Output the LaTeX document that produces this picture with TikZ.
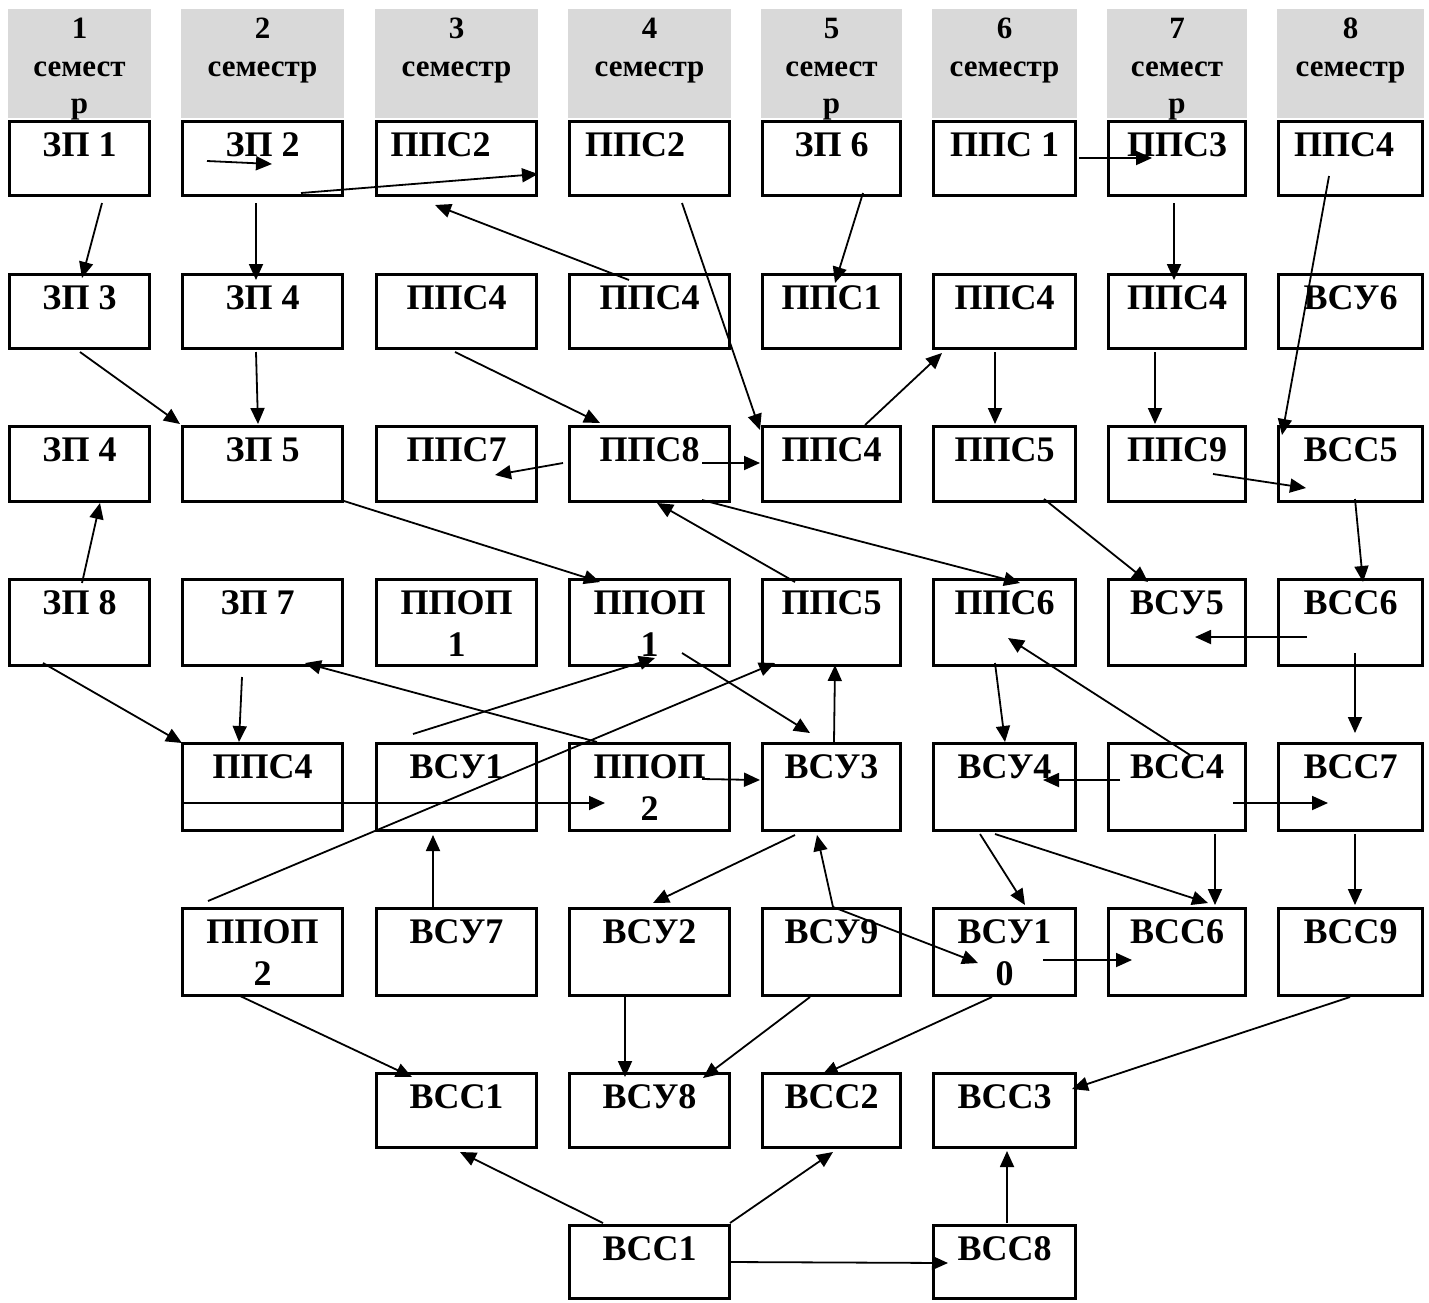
\documentclass[tikz,border=0pt]{standalone}
\usepackage{fontspec}
\setmainfont{Liberation Serif}
\usetikzlibrary{arrows.meta}
\definecolor{hdrgray}{HTML}{D9D9D9}
\tikzset{
  cellbox/.style={draw, line width=3.2pt, inner sep=0pt, outer sep=0pt},
  lbl/.style={anchor=north, inner sep=0pt, align=center, font=\fontsize{36}{42}\selectfont\bfseries},
  hdr/.style={fill=hdrgray, inner sep=0pt, outer sep=0pt},
  htxt/.style={anchor=north, inner sep=0pt, align=center, font=\fontsize{31}{37.5}\selectfont\bfseries},
  arr/.style={line width=1.8pt, -{Triangle[length=16pt,width=14pt]}},
}
\newcommand\mybox[7]{%
  \node[cellbox, minimum width=#4pt, minimum height=#5pt] (#1) at (#2,#3) {};
  \node[lbl] at ([xshift=#6pt,yshift=-11pt]#1.north) {#7};}
\newcommand\myhdr[4]{%
  \node[hdr, minimum width=#3pt, minimum height=109pt] (#1) at (#2,63.5) {};
  \node[htxt] at ([yshift=-9pt]#1.north) {#4};}
\newcommand\myarr[6]{\draw[arr] ([shift={(#2,#3)}]#1.center) -- ([shift={(#5,#6)}]#4.center);}
\begin{document}
\begin{tikzpicture}[x=1pt,y=-1pt]
\fill[white] (0,0) rectangle (1429,1302);
\useasboundingbox (0,0) rectangle (1429,1302);
% headers
\myhdr{h1}{79.5}{143}{1\\семест\\р}
\myhdr{h2}{262.5}{163}{2\\семестр}
\myhdr{h3}{456.5}{163}{3\\семестр}
\myhdr{h4}{649.5}{163}{4\\семестр}
\myhdr{h5}{831.5}{141}{5\\семест\\р}
\myhdr{h6}{1004.5}{145}{6\\семестр}
\myhdr{h7}{1177}{140}{7\\семест\\р}
\myhdr{h8}{1350.5}{147}{8\\семестр}
% row 1
\mybox{n11}{79.5}{158.5}{140}{74}{0}{ЗП 1}
\mybox{n12}{262.5}{158.5}{160}{74}{0}{ЗП 2}
\mybox{n13}{456.5}{158.5}{160}{74}{-16}{ППС2}
\mybox{n14}{649.5}{158.5}{160}{74}{-14.5}{ППС2}
\mybox{n15}{831.5}{158.5}{138}{74}{0}{ЗП 6}
\mybox{n16}{1004.5}{158.5}{142}{74}{0}{ППС 1}
\mybox{n17}{1177}{158.5}{137}{74}{0}{ППС3}
\mybox{n18}{1350.5}{158.5}{144}{74}{-6.5}{ППС4}
% row 2
\mybox{n21}{79.5}{311.5}{140}{74}{0}{ЗП 3}
\mybox{n22}{262.5}{311.5}{160}{74}{0}{ЗП 4}
\mybox{n23}{456.5}{311.5}{160}{74}{0}{ППС4}
\mybox{n24}{649.5}{311.5}{160}{74}{0}{ППС4}
\mybox{n25}{831.5}{311.5}{138}{74}{0}{ППС1}
\mybox{n26}{1004.5}{311.5}{142}{74}{0}{ППС4}
\mybox{n27}{1177}{311.5}{137}{74}{0}{ППС4}
\mybox{n28}{1350.5}{311.5}{144}{74}{0}{ВСУ6}
% row 3
\mybox{n31}{79.5}{464}{140}{75}{0}{ЗП 4}
\mybox{n32}{262.5}{464}{160}{75}{0}{ЗП 5}
\mybox{n33}{456.5}{464}{160}{75}{0}{ППС7}
\mybox{n34}{649.5}{464}{160}{75}{0}{ППС8}
\mybox{n35}{831.5}{464}{138}{75}{0}{ППС4}
\mybox{n36}{1004.5}{464}{142}{75}{0}{ППС5}
\mybox{n37}{1177}{464}{137}{75}{0}{ППС9}
\mybox{n38}{1350.5}{464}{144}{75}{0}{ВСС5}
% row 4
\mybox{n41}{79.5}{622.5}{140}{86}{0}{ЗП 8}
\mybox{n42}{262.5}{622.5}{160}{86}{-5}{ЗП 7}
\mybox{n43}{456.5}{622.5}{160}{86}{0}{ППОП\\1}
\mybox{n44}{649.5}{622.5}{160}{86}{0}{ППОП\\1}
\mybox{n45}{831.5}{622.5}{138}{86}{0}{ППС5}
\mybox{n46}{1004.5}{622.5}{142}{86}{0}{ППС6}
\mybox{n47}{1177}{622.5}{137}{86}{0}{ВСУ5}
\mybox{n48}{1350.5}{622.5}{144}{86}{0}{ВСС6}
% row 5
\mybox{n52}{262.5}{787}{160}{87}{0}{ППС4}
\mybox{n53}{456.5}{787}{160}{87}{0}{ВСУ1}
\mybox{n54}{649.5}{787}{160}{87}{0}{ППОП\\2}
\mybox{n55}{831.5}{787}{138}{87}{0}{ВСУ3}
\mybox{n56}{1004.5}{787}{142}{87}{0}{ВСУ4}
\mybox{n57}{1177}{787}{137}{87}{0}{ВСС4}
\mybox{n58}{1350.5}{787}{144}{87}{0}{ВСС7}
% row 6
\mybox{n62}{262.5}{952}{160}{87}{0}{ППОП\\2}
\mybox{n63}{456.5}{952}{160}{87}{0}{ВСУ7}
\mybox{n64}{649.5}{952}{160}{87}{0}{ВСУ2}
\mybox{n65}{831.5}{952}{138}{87}{0}{ВСУ9}
\mybox{n66}{1004.5}{952}{142}{87}{0}{ВСУ1\\0}
\mybox{n67}{1177}{952}{137}{87}{0}{ВСС6}
\mybox{n68}{1350.5}{952}{144}{87}{0}{ВСС9}
% row 7
\mybox{n73}{456.5}{1110.5}{160}{74}{0}{ВСС1}
\mybox{n74}{649.5}{1110.5}{160}{74}{0}{ВСУ8}
\mybox{n75}{831.5}{1110.5}{138}{74}{0}{ВСС2}
\mybox{n76}{1004.5}{1110.5}{142}{74}{0}{ВСС3}
% row 8
\mybox{n84}{649.5}{1262}{160}{73}{0}{ВСС1}
\mybox{n86}{1004.5}{1262}{142}{73}{0}{ВСС8}
% arrows
\myarr{n11}{22.5}{44.5}{n21}{2.5}{-33.5}
\myarr{n12}{-6.5}{44.5}{n22}{-6.5}{-31.5}
\myarr{n12}{-55.5}{2.5}{n12}{9.5}{5.5}
\myarr{n12}{38.5}{34.5}{n13}{81.5}{15.5}
\myarr{n24}{-20.5}{-31.5}{n13}{-21.5}{46.5}
\myarr{n14}{32.5}{44.5}{n35}{-71.5}{-34}
\myarr{n15}{31.5}{34.5}{n25}{3.5}{-28.5}
\myarr{n16}{74.5}{-0.5}{n17}{-25}{-0.5}
\myarr{n17}{-3}{44.5}{n27}{-3}{-31.5}
\myarr{n18}{-21.5}{17.5}{n38}{-68.5}{-29}
\myarr{n21}{0.5}{40.5}{n32}{-82.5}{-40}
\myarr{n22}{-6.5}{40.5}{n32}{-4.5}{-40}
\myarr{n23}{-1.5}{40.5}{n34}{-49.5}{-41}
\myarr{n35}{33.5}{-39}{n26}{-62.5}{41.5}
\myarr{n26}{-9.5}{40.5}{n36}{-9.5}{-40}
\myarr{n27}{-22}{40.5}{n37}{-22}{-40}
\myarr{n34}{-86.5}{-1}{n33}{38.5}{11}
\myarr{n34}{52.5}{-1}{n35}{-71.5}{-1}
\myarr{n37}{36}{10}{n38}{-44.5}{24}
\myarr{n32}{81.5}{37}{n44}{-49.5}{-40.5}
\myarr{n34}{52.5}{36}{n46}{15.5}{-39.5}
\myarr{n45}{-36.5}{-40.5}{n34}{7.5}{39}
\myarr{n41}{2.5}{-39.5}{n31}{20.5}{39}
\myarr{n36}{39.5}{35}{n47}{-29}{-40.5}
\myarr{n38}{4.5}{35}{n48}{12.5}{-40.5}
\myarr{n48}{-43.5}{14.5}{n47}{18}{14.5}
\myarr{n41}{-36.5}{40.5}{n52}{-80.5}{-44}
\myarr{n42}{-20.5}{54.5}{n52}{-23.5}{-45}
\myarr{n54}{-52.5}{-45}{n42}{42.5}{40.5}
\myarr{n53}{-43.5}{-53}{n44}{5.5}{35.5}
\myarr{n44}{32.5}{30.5}{n55}{-21.5}{-54}
\myarr{n62}{-54.5}{-51}{n45}{-56.5}{40.5}
\myarr{n55}{2.5}{-45}{n45}{3.5}{42.5}
\myarr{n46}{-9.5}{40.5}{n56}{0.5}{-45}
\myarr{n57}{13}{-32}{n46}{3.5}{15.5}
\myarr{n48}{4.5}{30.5}{n58}{4.5}{-54}
\myarr{n52}{-80.5}{16}{n54}{-44.5}{16}
\myarr{n54}{52.5}{-8}{n55}{-71.5}{-7}
\myarr{n57}{-57}{-7}{n56}{38.5}{-7}
\myarr{n57}{56}{16}{n58}{-22.5}{16}
\myarr{n63}{-23.5}{-45}{n53}{-23.5}{48}
\myarr{n55}{-36.5}{48}{n64}{3.5}{-49}
\myarr{n65}{1.5}{-45}{n55}{-14.5}{48}
\myarr{n65}{1.5}{-45}{n66}{-26.5}{11}
\myarr{n56}{-24.5}{47}{n66}{20.5}{-47}
\myarr{n56}{-9.5}{47}{n67}{31}{-49}
\myarr{n57}{38}{47}{n67}{38}{-47}
\myarr{n58}{4.5}{47}{n68}{4.5}{-47}
\myarr{n66}{38.5}{8}{n67}{-45}{8}
\myarr{n62}{-24.5}{43}{n73}{-44.5}{-33.5}
\myarr{n64}{-24.5}{45}{n74}{-24.5}{-33.5}
\myarr{n65}{-21.5}{45}{n74}{53.5}{-32.5}
\myarr{n66}{-12.5}{45}{n75}{-9.5}{-35.5}
\myarr{n68}{-0.5}{45}{n76}{67.5}{-21.5}
\myarr{n84}{-46.5}{-39}{n73}{3.5}{41.5}
\myarr{n84}{80.5}{-39}{n75}{1.5}{41.5}
\myarr{n84}{80.5}{0}{n86}{-56.5}{1}
\myarr{n86}{2.5}{-39}{n76}{2.5}{40.5}
\end{tikzpicture}
\end{document}
